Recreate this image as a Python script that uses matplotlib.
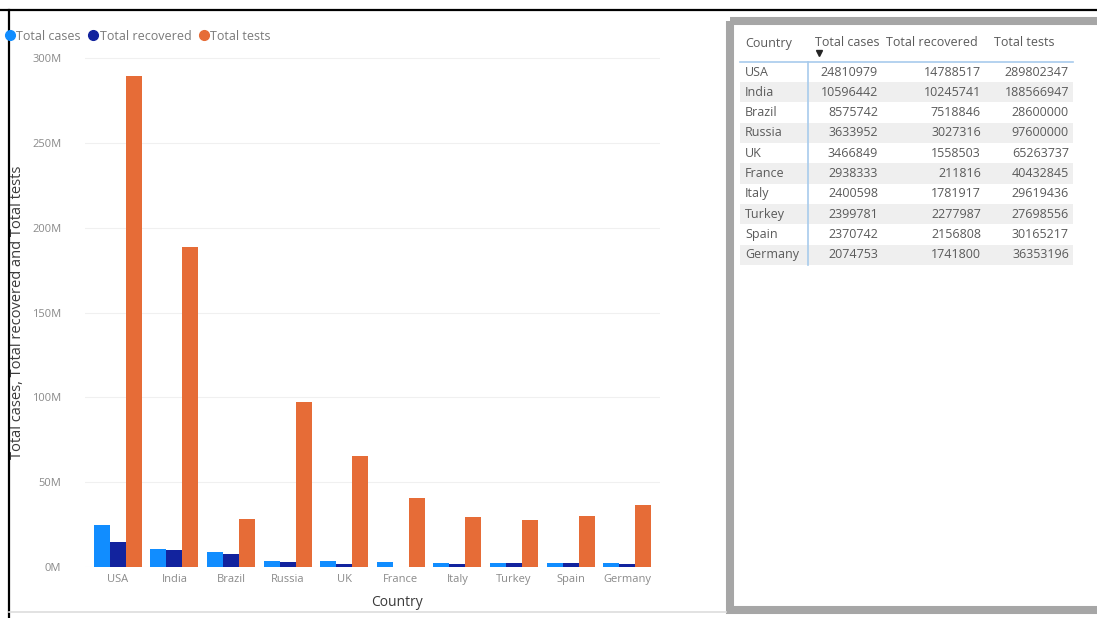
import numpy as np
import matplotlib.pyplot as plt
from matplotlib.lines import Line2D
from matplotlib.patches import Rectangle

# dati (top 10 paesi)
countries = ['USA', 'India', 'Brazil', 'Russia', 'UK', 'France', 'Italy', 'Turkey', 'Spain', 'Germany']
total_cases = [24810979, 10596442, 8575742, 3633952, 3466849, 2938333, 2400598, 2399781, 2370742, 2074753]
total_recovered = [14788517, 10245741, 7518846, 3027316, 1558503, 211816, 1781917, 2277987, 2156808, 1741800]
total_tests = [289802347, 188566947, 28600000, 97600000, 65263737, 40432845, 29619436, 27698556, 30165217, 36353196]

series = ['Total cases', 'Total recovered', 'Total tests']
colors = ['#118DFF', '#12239E', '#E66C37']
y_ticks = [0, 50e6, 100e6, 150e6, 200e6, 250e6, 300e6]

plt.rcParams['font.family'] = ['Open Sans', 'DejaVu Sans']

W, H = 1097, 618
fig = plt.figure(figsize=(W / 100, H / 100), dpi=100)


def box(x0, y0, x1, y1):
    # pixel box -> figure fraction
    return [x0 / W, 1 - y1 / H, (x1 - x0) / W, (y1 - y0) / H]


# grafico a barre
ax = fig.add_axes(box(85, 50, 660, 567))
x = np.arange(len(countries))
bw = 0.283
for k, (vals, name, col) in enumerate(zip([total_cases, total_recovered, total_tests], series, colors)):
    ax.bar(x + (k - 1) * bw, vals, bw, color=col, label=name, zorder=3)

ax.set_xlim(-0.58, 9.58)
ax.set_ylim(0, 305e6)
ax.set_xticks(x)
ax.set_xticklabels(countries)
ax.set_yticks(y_ticks)
ax.set_yticklabels([f'{int(v / 1e6)}M' for v in y_ticks])
ax.tick_params(length=0, labelsize=8, colors='#8a8a8a')
ax.tick_params(axis='y', pad=17)
ax.tick_params(axis='x', pad=5)
for s in ax.spines.values():
    s.set_visible(False)
ax.grid(axis='y', color='#f0f0f0', linewidth=0.8, zorder=0)

fig.text(18 / W, 1 - 312 / H, 'Total cases, Total recovered and Total tests',
         rotation=90, ha='center', va='center', fontsize=10.5, color='#3a3a3a')
fig.text(397 / W, 1 - 602 / H, 'Country', ha='center', va='center', fontsize=10, color='#3a3a3a')

# legenda
handles = [Line2D([], [], marker='o', linestyle='none', color=c, markersize=7) for c in colors]
fig.legend(handles, series, loc='center left', bbox_to_anchor=(5 / W, 1 - 36 / H), ncol=3,
           frameon=False, fontsize=9, labelcolor='#7a7a7a', handletextpad=0.1,
           columnspacing=0.6, handlelength=0.8, borderpad=0, borderaxespad=0)

# livello sovrapposto in pixel per cornici e tabella
ov = fig.add_axes([0, 0, 1, 1], zorder=5)
ov.set_xlim(0, W)
ov.set_ylim(H, 0)
ov.axis('off')
ov.patch.set_alpha(0)

ov.plot([0, W], [9.5, 9.5], color='black', lw=1.6)
ov.plot([8.5, 8.5], [9.5, H], color='black', lw=1.6)
ov.plot([8.5, 726], [612, 612], color='#dddddd', lw=1.2)
ov.add_patch(Rectangle((729.5, 21), 400, 588.5, fill=False, edgecolor='#a6a6a6', lw=5.8))

# tabella
row_h = 20.3
y0 = 72
line_col = '#a8cbec'
txt_col = '#5a5a5a'
for i, c in enumerate(countries):
    yy = y0 + i * row_h
    if i % 2 == 1:
        ov.add_patch(Rectangle((740, yy - row_h / 2), 333, row_h, color='#efefef', lw=0, zorder=1))
    ov.text(745, yy, c, ha='left', va='center', fontsize=9, color=txt_col, zorder=2)
    ov.text(878, yy, str(total_cases[i]), ha='right', va='center', fontsize=9, color=txt_col, zorder=2)
    ov.text(981, yy, str(total_recovered[i]), ha='right', va='center', fontsize=9, color=txt_col, zorder=2)
    ov.text(1069, yy, str(total_tests[i]), ha='right', va='center', fontsize=9, color=txt_col, zorder=2)

header_x = [745, 815, 886, 994]
for hx, lab in zip(header_x, ['Country'] + series):
    ov.text(hx, 43, lab, ha='left', va='center', fontsize=9, color=txt_col)
ov.plot([819], [53], marker='v', color='#252525', markersize=4)
ov.plot([740, 1073], [61.5, 61.5], color=line_col, lw=1.2, zorder=3)
ov.plot([808, 808], [61.5, y0 + 9.5 * row_h], color=line_col, lw=1.2, zorder=3)

fig.savefig('out.png', dpi=100, facecolor='white')
